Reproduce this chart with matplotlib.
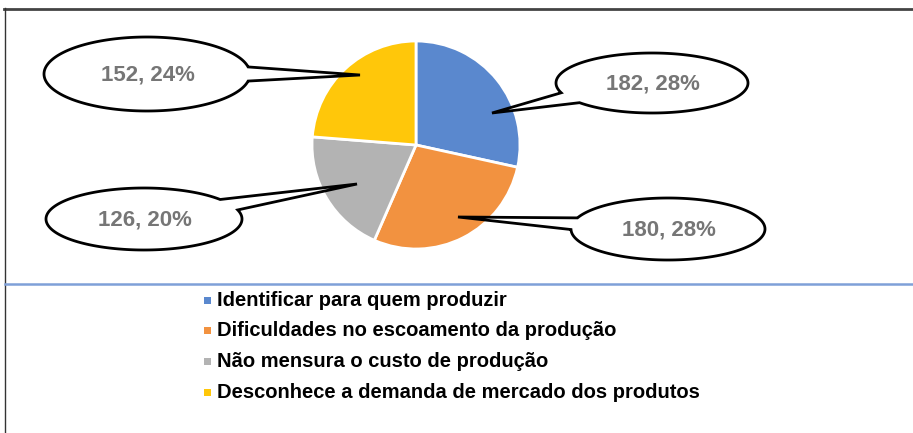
import numpy as np
import matplotlib
matplotlib.use("Agg")
from matplotlib import pyplot as plt
from matplotlib.patches import Polygon, Rectangle

plt.rcParams['font.family'] = ['Liberation Sans', 'DejaVu Sans']

categories = [
    "Identificar para quem produzir",
    "Dificuldades no escoamento da produção",
    "Não mensura o custo de produção",
    "Desconhece a demanda de mercado dos produtos",
]
values = [182, 180, 126, 152]
colors = ["#5A88CE", "#F29240", "#B3B3B3", "#FFC70A"]

W, H = 913, 433


def py(y):
    # pixel row (top-down) -> data y (bottom-up)
    return H - y


# callout layout in pixels: ellipse centre, half axes, pointer angle on ellipse, tip
callouts = [
    dict(c=(652, 83), a=96, b=30, t=150, tip=(492, 113)),
    dict(c=(668, 229), a=97, b=31, t=190, tip=(458, 217)),
    dict(c=(144, 219), a=98, b=31, t=-28, tip=(357, 184)),
    dict(c=(147, 74), a=103, b=37, t=0, tip=(360, 75)),
]

fig = plt.figure(figsize=(W / 100, H / 100), dpi=100)
ax = fig.add_axes([0, 0, 1, 1])

ax.pie(values, colors=colors, startangle=90, counterclock=False,
       center=(416, py(145)), radius=104,
       wedgeprops=dict(edgecolor="white", linewidth=2))
ax.set_xlim(0, W)
ax.set_ylim(0, H)
ax.set_aspect("auto")
ax.axis("off")

total = sum(values)
for v, co in zip(values, callouts):
    cx, cy = co["c"]
    a, b = co["a"], co["b"]
    t0 = np.radians(co["t"])
    half = np.radians(11)
    ts = np.linspace(t0 + half, t0 + 2 * np.pi - half, 200)
    pts = [(cx + a * np.cos(t), py(cy + b * np.sin(t))) for t in ts]
    pts.append((co["tip"][0], py(co["tip"][1])))
    ax.add_patch(Polygon(pts, closed=True, facecolor="white",
                         edgecolor="black", linewidth=2, zorder=5))
    ax.text(cx + 1, py(cy + 1), f"{v}, {round(v / total * 100)}%",
            ha="center", va="center", fontsize=16, fontweight="bold",
            color="#767676", zorder=6)

# frame and separator
ax.plot([4, W], [py(8.5), py(8.5)], color="#444444", lw=2)
ax.plot([4.5, 4.5], [py(8), 0], color="#333333", lw=1)
ax.plot([5, W], [py(284), py(284)], color="#7FA0D8", lw=1.8)

# legend
for i, (lab, col) in enumerate(zip(categories, colors)):
    y = 300 + i * 30.7
    ax.add_patch(Rectangle((204, py(y + 3.5)), 7, 7, facecolor=col, edgecolor="none"))
    ax.text(217, py(y), lab, ha="left", va="center", fontsize=14.5,
            fontweight="bold", color="black")

fig.savefig("out.png", dpi=100)
